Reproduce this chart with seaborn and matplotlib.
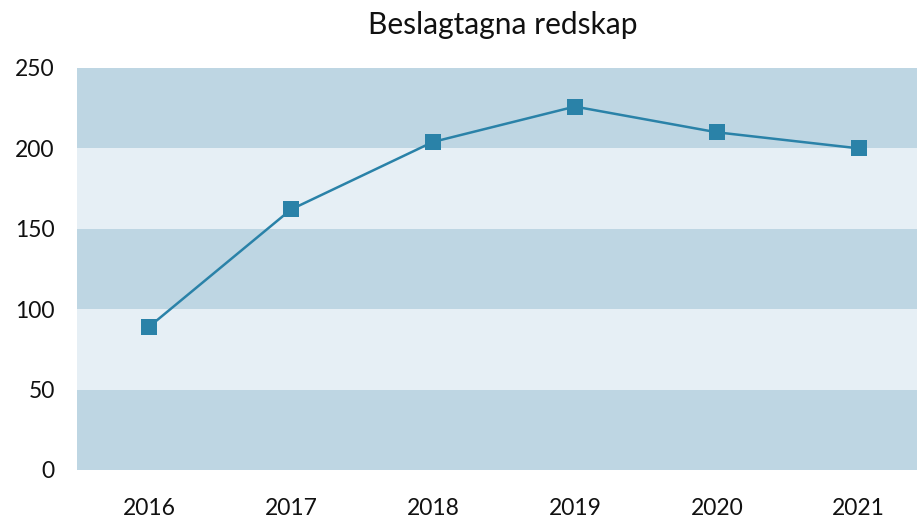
import matplotlib
matplotlib.use("Agg")
import matplotlib.pyplot as plt
import seaborn as sns
import pandas as pd

years = ["2016", "2017", "2018", "2019", "2020", "2021"]
values = [89, 162, 204, 226, 210, 200]
yticks = [0, 50, 100, 150, 200, 250]

sns.set_theme(style="white")
plt.rcParams['font.family'] = ['Lato', 'DejaVu Sans']

df = pd.DataFrame({"year": years, "value": values})
df["x"] = range(len(years))

fig = plt.figure(figsize=(9.17, 5.21), dpi=100)
ax = fig.add_axes([0.084, 0.098, 0.916, 0.7715])

dark = "#BED6E3"
light = "#E6EFF5"
for i in range(len(yticks) - 1):
    ax.axhspan(yticks[i], yticks[i + 1], color=dark if i % 2 == 0 else light, lw=0, zorder=0)

sns.lineplot(data=df, x="x", y="value", ax=ax, color="#2A82A8", linewidth=1.8,
             marker="s", markersize=11, markeredgewidth=0, zorder=3)

ax.set_xlim(-0.507, 5.41)
ax.set_ylim(0, 250)
ax.set_xticks(range(len(years)))
ax.set_xticklabels(years)
ax.set_yticks(yticks)
ax.tick_params(axis="both", labelsize=16.5, colors="#111111", length=0)
ax.tick_params(axis="x", pad=20)
ax.tick_params(axis="y", pad=16)
for s in ax.spines.values():
    s.set_visible(False)
ax.set_xlabel("")
ax.set_ylabel("")
ax.grid(False)
fig.text(0.548, 0.952, "Beslagtagna redskap", ha="center", va="center", fontsize=21.5, color="#111111")

fig.savefig("out.png", dpi=100)
